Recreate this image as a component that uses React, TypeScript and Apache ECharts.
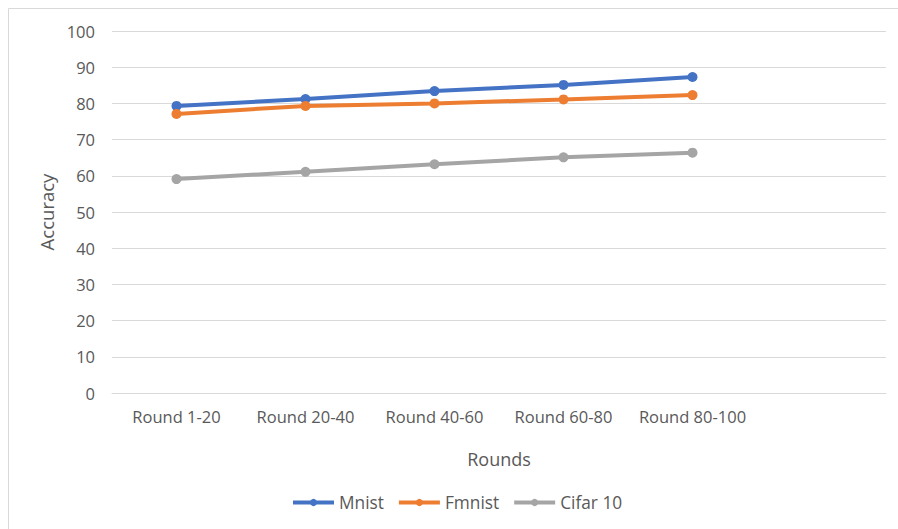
import React, { useEffect, useRef } from "react";
import * as echarts from "echarts";

// Training-round buckets; the trailing empty slot keeps Excel-style spacing on the right
const categories = ["Round 1-20", "Round 20-40", "Round 40-60", "Round 60-80", "Round 80-100", ""];

const mnist = [79.3, 81.2, 83.4, 85.1, 87.3];
const fmnist = [77.1, 79.3, 80.0, 81.1, 82.3];
const cifar10 = [59.1, 61.1, 63.2, 65.1, 66.4];

const yTicks = { min: 0, max: 100, interval: 10 };

const FONT = "'Open Sans', 'Noto Sans', sans-serif";
const TEXT = "#595959";
const GRID = "#d9d9d9";

export default function App() {
  const ref = useRef<HTMLDivElement>(null);

  useEffect(() => {
    if (!ref.current) return;
    const chart = echarts.init(ref.current, null, { renderer: "svg" });

    const mkSeries = (name: string, data: number[], color: string) => ({
      name,
      type: "line",
      data,
      symbol: "circle",
      symbolSize: 10,
      showSymbol: true,
      lineStyle: { color, width: 4 },
      itemStyle: { color },
      emphasis: { disabled: true },
    });

    chart.setOption({
      animation: false,
      backgroundColor: "#ffffff",
      textStyle: { fontFamily: FONT },
      graphic: [
        {
          type: "rect",
          shape: { x: 8.5, y: 8.5, width: 920, height: 560 },
          style: { fill: "none", stroke: GRID, lineWidth: 1 },
          silent: true,
        },
      ],
      grid: { left: 112, right: 12, top: 31, bottom: 136, containLabel: false },
      xAxis: {
        type: "category",
        data: categories,
        boundaryGap: true,
        name: "Rounds",
        nameLocation: "middle",
        nameGap: 57,
        nameTextStyle: { color: TEXT, fontSize: 18, fontFamily: FONT },
        axisLine: { show: true, lineStyle: { color: GRID, width: 1 } },
        axisTick: { show: false },
        axisLabel: { color: TEXT, fontSize: 16.5, fontFamily: FONT, margin: 15, interval: 0 },
        splitLine: { show: false },
      },
      yAxis: {
        type: "value",
        min: yTicks.min,
        max: yTicks.max,
        interval: yTicks.interval,
        name: "Accuracy",
        nameLocation: "middle",
        nameGap: 54,
        nameTextStyle: { color: TEXT, fontSize: 18.5, fontFamily: FONT },
        axisLine: { show: false },
        axisTick: { show: false },
        axisLabel: { color: TEXT, fontSize: 16.5, fontFamily: FONT, margin: 17 },
        splitLine: { show: true, lineStyle: { color: GRID, width: 1 } },
      },
      legend: {
        bottom: 13,
        left: 286,
        itemWidth: 41,
        itemHeight: 9,
        itemGap: 13,
        lineStyle: { width: 4 },
        textStyle: { color: TEXT, fontSize: 17.3, fontFamily: FONT },
        data: ["Mnist", "Fmnist", "Cifar 10"],
      },
      series: [
        mkSeries("Mnist", mnist, "#4472C4"),
        mkSeries("Fmnist", fmnist, "#ED7D31"),
        mkSeries("Cifar 10", cifar10, "#A5A5A5"),
      ],
    });

    return () => chart.dispose();
  }, []);

  return (
    <div
      ref={ref}
      style={{ position: "fixed", left: 0, top: 0, width: 898, height: 529, background: "#fff" }}
    />
  );
}
